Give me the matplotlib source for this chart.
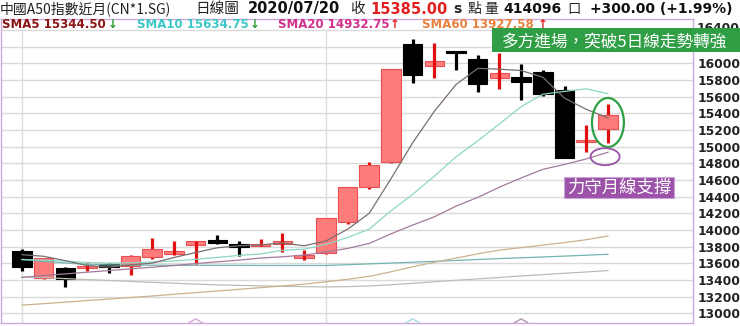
import numpy as np
import matplotlib
matplotlib.use("Agg")
import matplotlib.pyplot as plt
from matplotlib.patches import Rectangle, Ellipse

plt.rcParams['font.family'] = ['Noto Sans CJK TC', 'DejaVu Sans']

# CN*1.SG daily candles
opens  = [13750, 13422, 13549, 13542, 13582, 13573, 13674, 13710, 13822, 13869,
          13822, 13810, 13842, 13662, 13722, 14097, 14517, 14817, 16231, 15968,
          16147, 16052, 15824, 15836, 15896, 15680, 15056, 15212]
highs  = [13775, 13670, 13561, 13602, 13606, 13702, 13902, 13869, 13875, 13941,
          13869, 13893, 13962, 13762, 14150, 14520, 14820, 15935, 16291, 16243,
          16150, 16100, 16123, 15992, 15920, 15728, 15260, 15512]
lows   = [13513, 13415, 13314, 13513, 13482, 13462, 13650, 13705, 13594, 13830,
          13693, 13805, 13741, 13642, 13715, 14073, 14493, 14805, 15764, 15824,
          15920, 15656, 15692, 15560, 15608, 14860, 14937, 15044]
closes = [13561, 13662, 13414, 13573, 13570, 13690, 13774, 13750, 13869, 13857,
          13810, 13830, 13861, 13702, 14142, 14517, 14781, 15932, 15860, 16028,
          16123, 15752, 15884, 15776, 15632, 14865, 15085, 15385]

# moving average lines
sma5 = [13705, 13686, 13633, 13575, 13556, 13582, 13604, 13671, 13731, 13788,
        13812, 13823, 13845, 13812, 13869, 14010, 14201, 14615, 15046, 15424,
        15745, 15939, 15929, 15913, 15833, 15582, 15448, 15345]
sma10 = [13645, 13640, 13628, 13612, 13604, 13608, 13618, 13630, 13650, 13672,
         13697, 13714, 13758, 13771, 13829, 13911, 14012, 14230, 14429, 14646,
         14878, 15070, 15272, 15480, 15629, 15663, 15694, 15635]
sma20 = [13432, 13455, 13475, 13495, 13515, 13535, 13555, 13575, 13598, 13620,
         13640, 13665, 13680, 13700, 13738, 13780, 13840, 13955, 14060, 14159,
         14287, 14392, 14515, 14625, 14728, 14787, 14853, 14933]
sma60 = [13100, 13118, 13136, 13155, 13173, 13192, 13210, 13230, 13250, 13270,
         13290, 13310, 13330, 13352, 13380, 13410, 13445, 13500, 13560, 13615,
         13665, 13715, 13760, 13790, 13820, 13850, 13885, 13928]
sma120 = [13650, 13625, 13605, 13590, 13582, 13580, 13579, 13578, 13578, 13577,
          13577, 13576, 13576, 13576, 13576, 13585, 13595, 13605, 13615, 13625,
          13636, 13648, 13658, 13668, 13678, 13688, 13699, 13710]
sma240 = [13440, 13430, 13418, 13407, 13396, 13385, 13374, 13363, 13352, 13344,
          13337, 13331, 13326, 13322, 13318, 13322, 13330, 13345, 13362, 13380,
          13398, 13415, 13432, 13450, 13466, 13482, 13498, 13515]

sma_labels = ["SMA5 15344.50", "SMA10 15634.75", "SMA20 14932.75", "SMA60 13927.58"]
sma_arrows = ["↓", "↓", "↑", "↑"]
y_ticks = list(range(13000, 16401, 200))
month_idx = [0, 14]
marker_idx = [8, 18, 23]

W, H = 740, 326
fig = plt.figure(figsize=(W / 100, H / 100), dpi=100)
fig.patch.set_facecolor('white')
ax = fig.add_axes([1 / W, 3 / H, 692 / W, 304.5 / H])

x = np.arange(len(closes))
ax.set_xlim(-0.968, 30.92)
ax.set_ylim(12886, 16537)

# grid; the top two labels sit under the green note box in the original,
# 16400 is drawn by hand further down so only its top peeks out
ax.set_yticks(y_ticks)
ax.set_yticklabels(["" if v >= 16200 else str(v) for v in y_ticks])
ax.yaxis.tick_right()
ax.set_xticks([])
ax.tick_params(axis='y', length=0, pad=3, labelsize=8.8, labelcolor='#222222')
for t in ax.get_yticklabels():
    t.set_fontweight('bold')
    t.set_family('DejaVu Sans')
ax.grid(axis='y', color='#DADADA', lw=1.0)
ax.set_axisbelow(True)
ax.vlines(month_idx, 12886, 16400, color='#DDDDDD', lw=1.0, zorder=0.5)
for s in ax.spines.values():
    s.set_color('#CDA8DA')
    s.set_linewidth(1.0)

# candles
for i in x:
    o, h, l, c = opens[i], highs[i], lows[i], closes[i]
    if c >= o:
        fc, ec, wc = '#FF7C7C', '#E65050', '#E01010'
    else:
        fc, ec, wc = 'black', 'black', 'black'
    small = abs(c - o) < 80
    body = max(abs(c - o), 30)
    mid = (o + c) / 2
    ax.vlines(i, l, h, color=wc, lw=2.3, zorder=4 if small else 2)
    ax.add_patch(Rectangle((i - 0.45, mid - body / 2), 0.9, body,
                           fc=fc, ec=ec, lw=0.8, zorder=3))

# moving averages
ax.plot(x, sma240, color='#BDBDB5', lw=0.9, zorder=5)
ax.plot(x, sma120, color='#73B5B0', lw=0.9, zorder=5)
ax.plot(x, sma60, color='#CDB08E', lw=0.9, zorder=5)
ax.plot(x, sma20, color='#A47A9C', lw=0.9, zorder=5)
ax.plot(x, sma10, color='#8DD6C6', lw=0.9, zorder=5)
ax.plot(x, sma5, color='#7A6E6E', lw=0.9, zorder=5)

# event markers at the bottom
for i, col in zip(marker_idx, ['#D0A8D8', '#A8DCE4', '#B090B0']):
    ax.plot([i - 0.3, i, i + 0.3], [12890, 12935, 12890], color=col, lw=1.0, zorder=5)

# highlight ellipses
ax.add_patch(Ellipse((27.0, 15290), 1.47, 588, fill=False, ec='#2F9E44', lw=1.6, zorder=6))
ax.add_patch(Ellipse((26.87, 14880), 1.34, 204, fill=False, ec='#9B52A8', lw=1.3, zorder=6))


def fx(px):
    return px / W


def fy(py):
    return 1 - py / H


# header row
hy = fy(9)
fig.text(fx(0), hy, "中國A50指數近月(CN*1.SG)", fontsize=10, color='#222222', va='center')
fig.text(fx(195), hy, "日線圖", fontsize=10.5, color='#222222', va='center')
fig.text(fx(248), hy, "2020/07/20", fontsize=10.5, weight='bold', family='DejaVu Sans',
         color='#111111', va='center')
fig.text(fx(350), hy, "收", fontsize=10.5, color='#222222', va='center')
fig.text(fx(370), hy, "15385.00", fontsize=10.5, weight='bold', family='DejaVu Sans',
         color='#E02020', va='center')
fig.text(fx(453), hy, "s", fontsize=10, weight='bold', family='DejaVu Sans',
         color='#222222', va='center')
fig.text(fx(467), hy, "點", fontsize=10, color='#222222', va='center')
fig.text(fx(484), hy, "量", fontsize=10, color='#222222', va='center')
fig.text(fx(503), hy, "414096", fontsize=10, weight='bold', family='DejaVu Sans',
         color='#111111', va='center')
fig.text(fx(567), hy, "口", fontsize=9.5, color='#222222', va='center')
fig.text(fx(590), hy, "+300.00 (+1.99%)", fontsize=10, weight='bold', family='DejaVu Sans',
         color='#111111', va='center')

# SMA legend row
ly = fy(25)
lab_x = [2, 137, 278, 422]
arr_x = [108, 250, 390, 538]
lab_col = ['#8B1414', '#3CC6C6', '#D2308C', '#E8823E']
for lab, arr, xa, xb, col in zip(sma_labels, sma_arrows, lab_x, arr_x, lab_col):
    fig.text(fx(xa), ly, lab, fontsize=8.5, weight='bold', family='DejaVu Sans',
             color=col, va='center')
    fig.text(fx(xb), ly, arr, fontsize=8.5, weight='bold', family='DejaVu Sans',
             color='#2A9A2A' if arr == "↓" else '#E02020', va='center')

# half hidden top tick label
fig.text(fx(697), fy(34.5), "16400", fontsize=8.8, weight='bold', family='DejaVu Sans',
         color='#222222', va='bottom', zorder=5)

# annotation boxes
fig.add_artist(Rectangle((fx(492), fy(52)), 248 / W, 24 / H, transform=fig.transFigure,
                         fc='#2F9E44', ec='none', zorder=10))
fig.text(fx(615), fy(43), "多方進場，突破5日線走勢轉強", fontsize=12, color='white',
         ha='center', va='center', zorder=11)
fig.add_artist(Rectangle((fx(564), fy(198)), 110 / W, 21 / H, transform=fig.transFigure,
                         fc='#9B52A8', ec='#C9A6D6', lw=0.8, zorder=10))
fig.text(fx(619), fy(187.5), "力守月線支撐", fontsize=12.5, color='white',
         ha='center', va='center', zorder=11)

fig.savefig("out.png", dpi=100, facecolor='white')
